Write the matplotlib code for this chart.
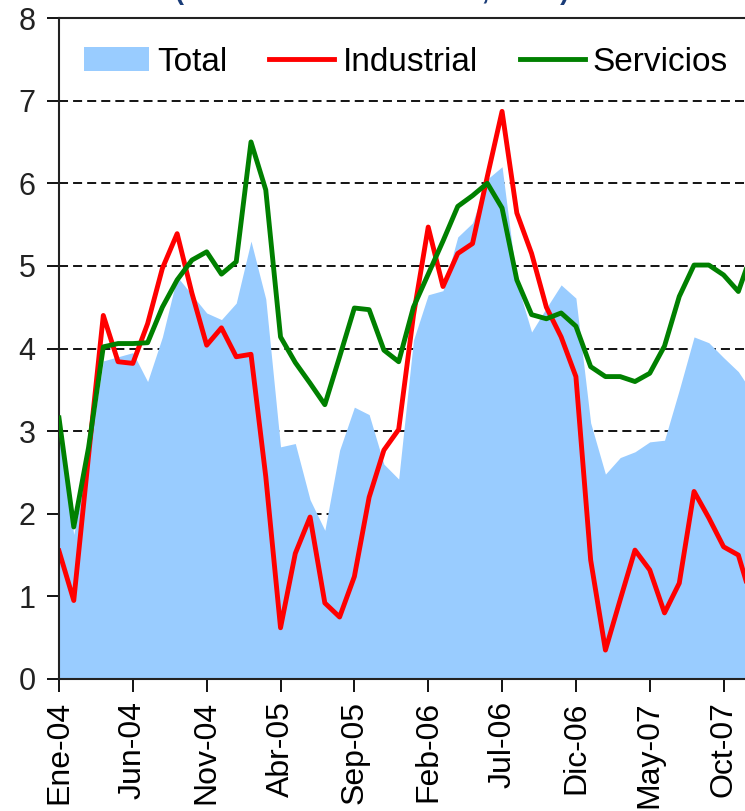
import numpy as np
import matplotlib
matplotlib.use("Agg")
import matplotlib.pyplot as plt
from matplotlib.patches import Patch
from matplotlib.lines import Line2D

plt.rcParams['font.family'] = ['Liberation Sans', 'DejaVu Sans']

# monthly data, Ene-04 .. Dic-07
total = [2.95, 1.75, 2.7, 3.85, 3.9, 3.95, 3.6, 4.14, 4.87, 4.65, 4.43, 4.35,
         4.55, 5.3, 4.6, 2.81, 2.85, 2.17, 1.8, 2.77, 3.29, 3.2, 2.6, 2.42,
         4.1, 4.65, 4.7, 5.35, 5.52, 6.05, 6.2, 4.8, 4.2, 4.49, 4.77, 4.61,
         3.1, 2.48, 2.68, 2.75, 2.87, 2.89, 3.5, 4.14, 4.07, 3.89, 3.72, 3.45]
industrial = [1.55, 0.95, 2.7, 4.4, 3.84, 3.82, 4.3, 4.97, 5.39, 4.67, 4.04, 4.25,
              3.9, 3.93, 2.45, 0.62, 1.52, 1.96, 0.92, 0.75, 1.24, 2.2, 2.77, 3.02,
              4.4, 5.47, 4.75, 5.15, 5.27, 6.08, 6.87, 5.64, 5.15, 4.5, 4.14, 3.66,
              1.44, 0.35, 0.96, 1.56, 1.32, 0.8, 1.16, 2.27, 1.95, 1.6, 1.5, 0.9]
servicios = [3.16, 1.84, 2.8, 4.02, 4.06, 4.06, 4.07, 4.5, 4.83, 5.07, 5.17, 4.9,
             5.05, 6.5, 5.92, 4.14, 3.83, 3.58, 3.32, 3.9, 4.49, 4.47, 3.98, 3.84,
             4.5, 4.9, 5.3, 5.72, 5.85, 6.0, 5.7, 4.83, 4.41, 4.36, 4.43, 4.27,
             3.78, 3.66, 3.66, 3.6, 3.7, 4.03, 4.63, 5.01, 5.01, 4.89, 4.69, 5.2]
tick_labels = ['Ene-04', 'Jun-04', 'Nov-04', 'Abr-05', 'Sep-05',
               'Feb-06', 'Jul-06', 'Dic-06', 'May-07', 'Oct-07']

months = np.arange(len(total))
tick_pos = np.arange(len(tick_labels)) * 5

fig = plt.figure(figsize=(7.45, 8.11), dpi=100)
ax = fig.add_axes([59 / 745, 132 / 811, 686 / 745, 661 / 811])

for lvl in range(1, 8):
    ax.axhline(lvl, color='black', lw=1.3, ls=(0, (5, 2.8)), zorder=0.5)

ax.fill_between(months, 0, total, color='#99CCFF', lw=0, zorder=1)
ax.plot(months, industrial, color='#FF0000', lw=3.5, zorder=2)
ax.plot(months, servicios, color='#008000', lw=3.5, zorder=3)

ax.set_xlim(0, 46.45)
ax.set_ylim(0, 8)
ax.set_yticks(range(0, 9))
ax.set_xticks(tick_pos)
ax.set_xticklabels(tick_labels, rotation=90, fontsize=23)
ax.tick_params(axis='both', direction='out', length=9, width=1.3,
               colors='black', pad=8)
ax.tick_params(axis='y', labelsize=22, labelcolor='#222222')
ax.tick_params(axis='x', pad=7)
ax.spines['right'].set_visible(False)
for s in ['left', 'bottom', 'top']:
    ax.spines[s].set_linewidth(1.5)
    ax.spines[s].set_color('#222222')

handles = [Patch(facecolor='#99CCFF', edgecolor='none'),
           Line2D([], [], color='#FF0000', lw=3.5),
           Line2D([], [], color='#008000', lw=3.5)]
ax.legend(handles, ['Total', 'Industrial', 'Servicios'], ncol=3,
          loc='center left', bbox_to_anchor=(25 / 686, 0.933), frameon=False,
          fontsize=24, handlelength=1.95, handletextpad=0.25,
          columnspacing=1.25, borderaxespad=0, borderpad=0)

fig.text(175 / 745, 1.0 + 1 / 811, '(tasa de variación anual, en %)',
         ha='left', va='baseline', fontsize=19.5, fontweight='bold',
         color='#1A3C78')

fig.savefig('out.png', dpi=100)
